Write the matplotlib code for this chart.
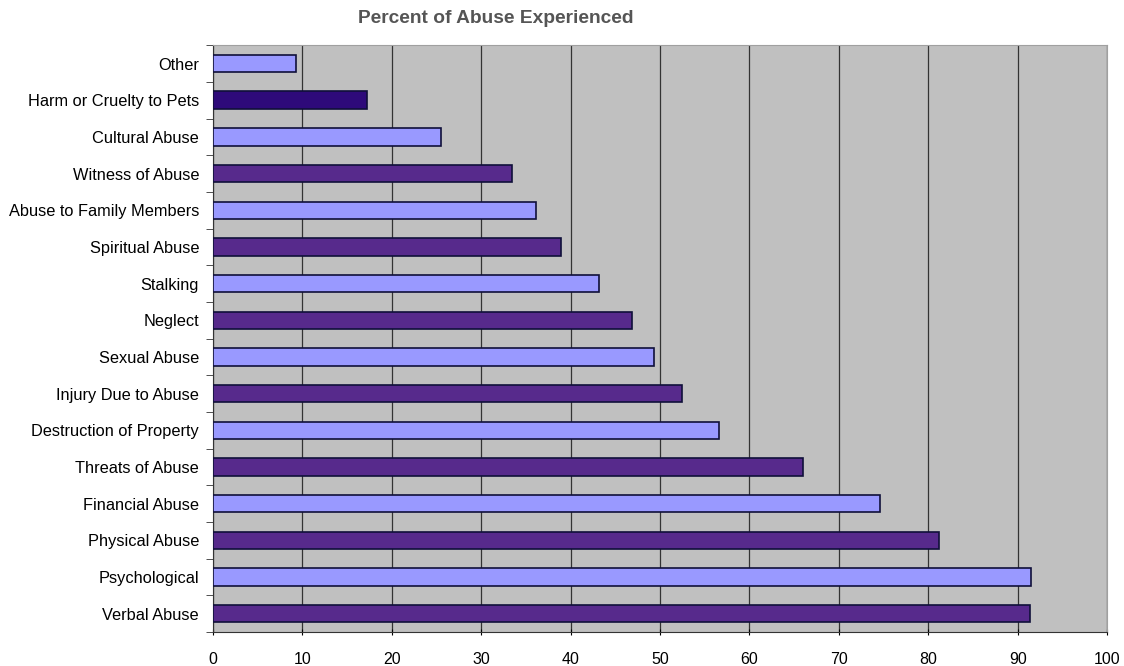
import matplotlib.pyplot as plt

# categorias de abajo hacia arriba
categorias = ['Verbal Abuse', 'Psychological', 'Physical Abuse', 'Financial Abuse',
              'Threats of Abuse', 'Destruction of Property', 'Injury Due to Abuse',
              'Sexual Abuse', 'Neglect', 'Stalking', 'Spiritual Abuse',
              'Abuse to Family Members', 'Witness of Abuse', 'Cultural Abuse',
              'Harm or Cruelty to Pets', 'Other']
porcentajes = [91.4, 91.5, 81.2, 74.6, 66.0, 56.6, 52.4, 49.3, 46.9, 43.2,
               38.9, 36.1, 33.4, 25.5, 17.2, 9.3]
colores = ['#572A8C', '#9999FF'] * 7 + ['#2E0A7A', '#9999FF']

plt.rcParams['font.family'] = ['Liberation Sans', 'DejaVu Sans']

fig = plt.figure(figsize=(11.24, 6.66), dpi=100)
ax = fig.add_axes([0.1895, 0.051, 0.7955, 0.881])
ax.set_facecolor('#C0C0C0')

y = range(len(categorias))
ax.barh(y, porcentajes, height=0.48, color=colores, edgecolor='#10103A',
        linewidth=1.2, zorder=3)

ax.set_xlim(0, 100)
ax.set_ylim(-0.5, len(categorias) - 0.5)
ax.set_xticks(range(0, 101, 10))
ax.xaxis.grid(True, color='#333333', linewidth=0.9, zorder=1)
ax.set_yticks(list(y))
ax.set_yticklabels(categorias, fontsize=11.8)
ax.tick_params(axis='y', length=0, pad=10)
ax.tick_params(axis='x', labelsize=11.5, length=5, direction='inout', pad=12)
# ticks menores entre categorias
ax.set_yticks([i - 0.5 for i in range(len(categorias) + 1)], minor=True)
ax.tick_params(axis='y', which='minor', length=5, color='#333333')

for lado in ['top', 'right']:
    ax.spines[lado].set_color('#A0A0A0')
for lado in ['left', 'bottom']:
    ax.spines[lado].set_color('#333333')

fig.text(0.441, 0.972, 'Percent of Abuse Experienced', fontsize=13.8,
         fontweight='bold', color='#555555', ha='center', va='center')

fig.savefig('out.png')
